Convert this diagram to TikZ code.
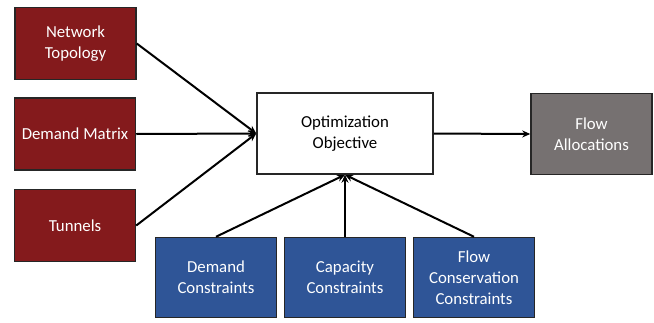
\documentclass[tikz,border=0pt]{standalone}
\usepackage{fontspec}
\setmainfont{Carlito}
\usetikzlibrary{arrows.meta}
\definecolor{boxred}{HTML}{841A1C}
\definecolor{boxblue}{HTML}{2F5597}
\definecolor{boxgray}{HTML}{767171}
\begin{document}
\begin{tikzpicture}[x=1pt,y=-1pt,
  base/.style={draw=black!85, line width=1.5pt, inner sep=0pt, align=center,
    font=\fontsize{16.8}{21}\selectfont},
  redbox/.style={base, fill=boxred, text=white, minimum width=121pt, minimum height=72pt},
  bluebox/.style={base, fill=boxblue, text=white, minimum width=121pt, minimum height=80pt},
  graybox/.style={base, fill=boxgray, text=white, minimum width=121pt, minimum height=81pt},
  whitebox/.style={base, fill=white, text=black, minimum width=176pt, minimum height=81pt},
  conn/.style={line width=2pt, -{Stealth[length=8pt,width=7pt]}}
]
\useasboundingbox (0,0) rectangle (654,322);
\fill[white] (0,0) rectangle (654,322);
\node[redbox] (nt) at (75.5,43.5) {Network\\Topology};
\node[redbox] (dm) at (75,134) {Demand Matrix};
\node[redbox] (tu) at (75,225.5) {Tunnels};
\node[whitebox] (opt) at (345,133.5) {Optimization\\Objective};
\node[graybox] (fa) at (591.5,134) {Flow\\Allocations};
\node[bluebox] (dc) at (216,277.5) {Demand\\Constraints};
\node[bluebox] (cc) at (345,277.5) {Capacity\\Constraints};
\node[bluebox] (fc) at (474,277.5) {Flow\\Conservation\\Constraints};
\draw[conn] (nt.east) -- (opt.west);
\draw[conn] (dm.east) -- (opt.west);
\draw[conn] (tu.east) -- (opt.west);
\draw[conn] (dc.north) -- (opt.south);
\draw[conn] (cc.north) -- (opt.south);
\draw[conn] (fc.north) -- (opt.south);
\draw[conn] (opt.east) -- (fa.west);
\end{tikzpicture}
\end{document}
